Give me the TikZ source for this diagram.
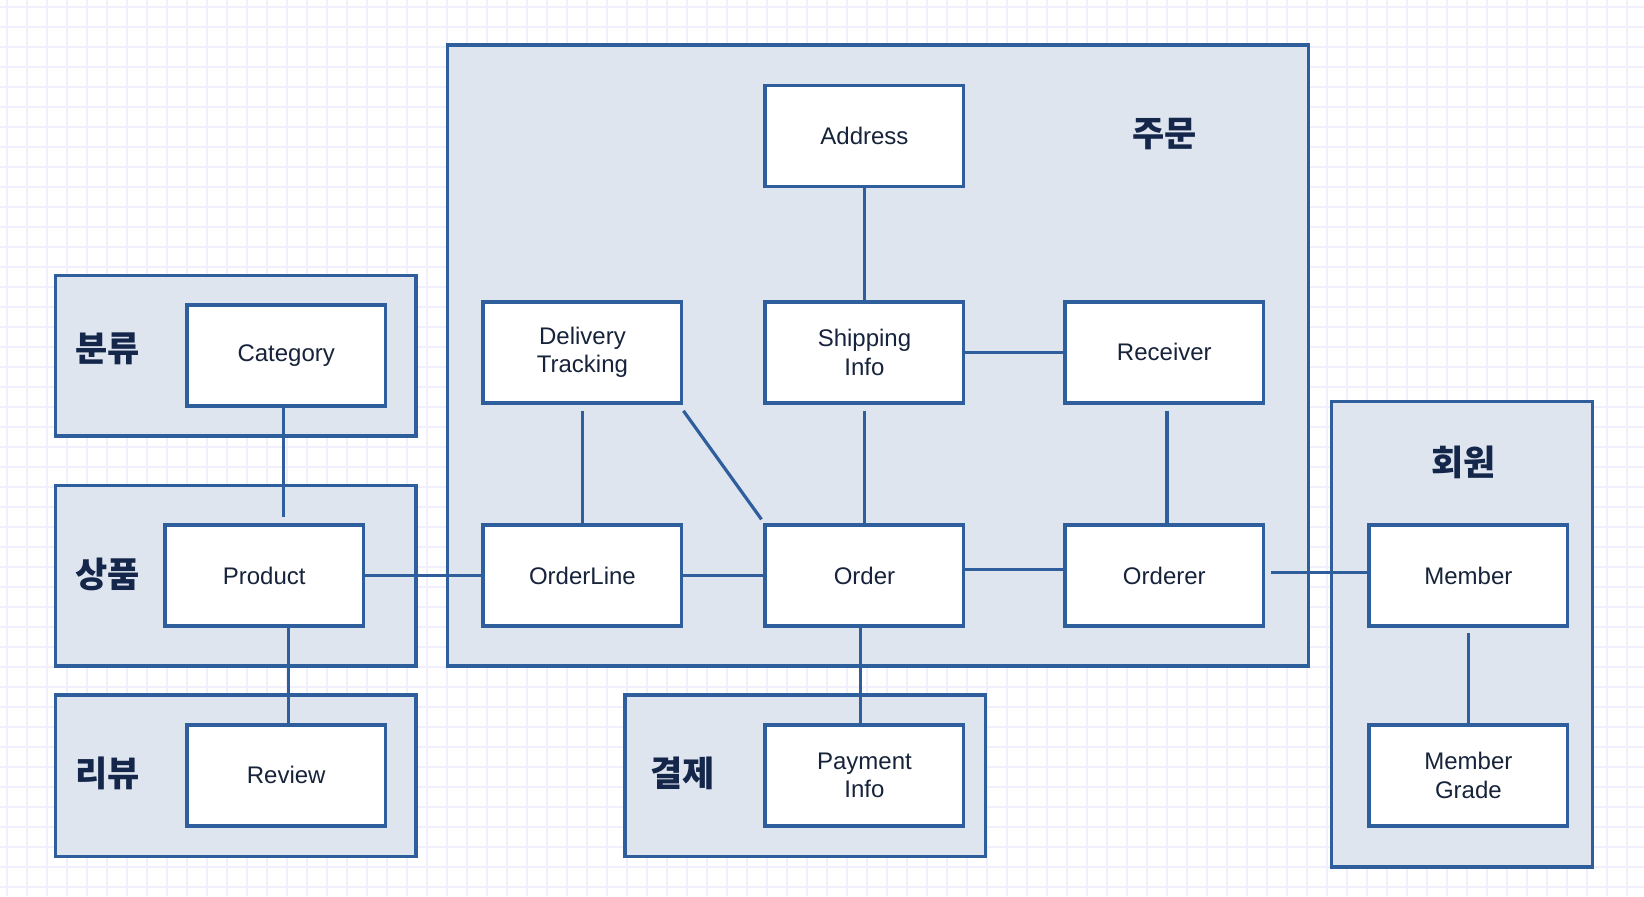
\documentclass[tikz,border=0pt]{standalone}
\usepackage{fontspec}
\setmainfont{Liberation Sans}
\newfontfamily\kr{Noto Sans CJK KR}
\usetikzlibrary{calc}
\definecolor{bordc}{HTML}{2F5E9C}
\definecolor{grpfill}{HTML}{DEE5EF}
\definecolor{txtc}{HTML}{14264A}
\definecolor{enttxt}{HTML}{16233A}
\definecolor{gridc}{HTML}{F0EFFB}
\tikzset{
  grp/.style={draw=bordc, fill=grpfill, line width=3.5pt},
  ent/.style={draw=bordc, fill=white, line width=3.5pt, minimum width=198.5pt, minimum height=101pt,
    align=center, inner sep=0pt, text=enttxt, font=\fontsize{24pt}{28.3pt}\selectfont},
  grplbl/.style={text=txtc, font=\kr\bfseries\fontsize{35pt}{40pt}\selectfont, inner sep=0pt},
  conn/.style={draw=bordc, line width=3.2pt},
  gridline/.style={draw=gridc, line width=1.8pt}
}
\begin{document}
\begin{tikzpicture}[x=1.0485pt, y=-1.0485pt]
\useasboundingbox (0,0) rectangle (1568,854.6);
\fill[white] (0,0) rectangle (1568,854.6);
% grid
\foreach \i in {0,...,82} {
  \draw[gridline] ({6.4+19.075*\i},0) -- ({6.4+19.075*\i},854.6);
}
\foreach \j in {0,...,44} {
  \draw[gridline] (0,{6.4+19.075*\j}) -- (1568,{6.4+19.075*\j});
}
% groups
\path[grp] (53,263) rectangle (397,416);
\path[grp] (53,463) rectangle (397,635);
\path[grp] (53,663) rectangle (397,817);
\path[grp] (427,43) rectangle (1248,635);
\path[grp] (596,663) rectangle (940,817);
\path[grp] (1270,383) rectangle (1519,827);
% group labels
\node[grplbl] (gcat) at (103,333) {분류};
\node[grplbl] (gprod) at (103,548) {상품};
\node[grplbl] (grev) at (103,738) {리뷰};
\node[grplbl] (gord) at (1111,128) {주문};
\node[grplbl] (gpay) at (651,738) {결제};
\node[grplbl] (gmem) at (1396,441) {회원};
% entities
\node[ent] (cat) at (273,339) {Category};
\node[ent] (prod) at (252,549) {Product};
\node[ent] (rev) at (273,739.5) {Review};
\node[ent] (addr) at (824.5,129.5) {Address};
\node[ent] (dt) at (555.5,336) {Delivery\\Tracking};
\node[ent] (ship) at (824.5,336) {Shipping\\Info};
\node[ent] (recv) at (1110.5,336) {Receiver};
\node[ent] (ol) at (555.5,549) {OrderLine};
\node[ent] (ord) at (824.5,549) {Order};
\node[ent] (orderer) at (1110.5,549) {Orderer};
\node[ent] (mem) at (1400.5,549) {Member};
\node[ent] (grade) at (1400.5,739.5) {Member\\Grade};
\node[ent] (pay) at (824.5,739.5) {Payment\\Info};
% connectors
\draw[conn, shorten >=6.3pt] ([xshift=-3.1pt]cat.south) -- ([xshift=-3.1pt]cat.south |- prod.north);
\draw[conn] ([xshift=2.1pt]rev.north) -- ([xshift=2.1pt]rev.north |- prod.south);
\draw[conn] (prod.east) -- (ol.west);
\draw[conn] (addr.south) -- (ship.north);
\draw[conn] (ship.east) -- (recv.west);
\draw[conn, shorten <=6.3pt] (dt.south) -- (ol.north);
\draw[conn] ([yshift=-6.3pt]dt.south east) -- ([xshift=-2pt,yshift=4pt]ord.north west);
\draw[conn, shorten <=6.3pt] (ship.south) -- (ord.north);
\draw[conn, shorten <=6.3pt] ([xshift=2.6pt]recv.south) -- ([xshift=2.6pt]recv.south |- orderer.north);
\draw[conn] (ol.east) -- (ord.west);
\draw[conn] ([yshift=6.3pt]ord.east) -- ([yshift=6.3pt]ord.east -| orderer.west);
\draw[conn, shorten <=5.2pt] ([yshift=3.1pt]orderer.east) -- ([yshift=3.1pt]orderer.east -| mem.west);
\draw[conn] ([xshift=-3.7pt]ord.south) -- ([xshift=-3.7pt]ord.south |- pay.north);
\draw[conn, shorten <=5.2pt] (mem.south) -- (grade.north);
\end{tikzpicture}
\end{document}
